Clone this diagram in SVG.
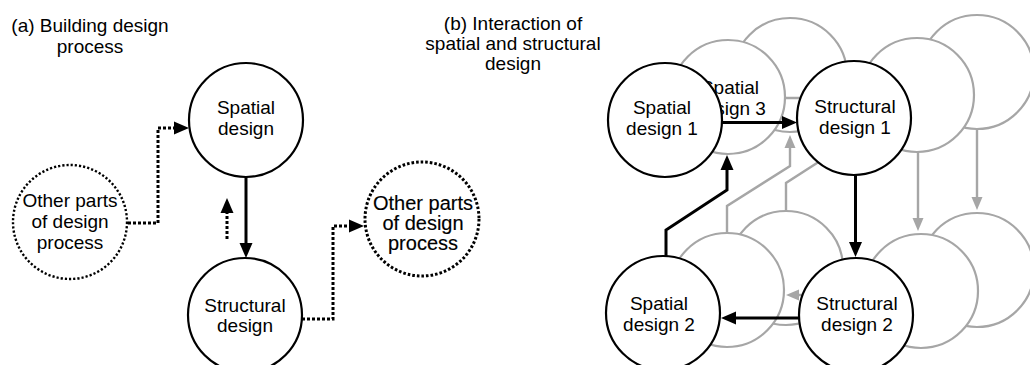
<svg xmlns="http://www.w3.org/2000/svg" width="1030" height="365" viewBox="0 0 1030 365">
  <style>
    text { font-family: "Liberation Sans", Arial, sans-serif; font-size: 19px; fill: #000; text-anchor: middle; }
    .big { font-size: 20px; stroke: #000; stroke-width: 0.15; }
    .node { fill: #fff; stroke: #000; stroke-width: 2.2; }
    .ghost { fill: #fff; stroke: #a6a6a6; stroke-width: 2.2; }
    .dotnode { fill: #fff; stroke: #000; stroke-width: 2.4; stroke-dasharray: 2.2 2; }
    .dotnode.heavy { stroke-width: 3; stroke-dasharray: 2.6 2; }
    .k { fill: none; stroke: #000; stroke-width: 3; marker-end: url(#headK); }
    .dot { fill: none; stroke: #000; stroke-width: 3; stroke-dasharray: 3 2; marker-end: url(#headK); }
    .g { fill: none; stroke: #a6a6a6; stroke-width: 2.4; marker-end: url(#headG); }
  </style>
  <defs>
    <marker id="headK" markerUnits="userSpaceOnUse" markerWidth="16" markerHeight="14" refX="3" refY="7" orient="auto">
      <path d="M0,0.5 L15,7 L0,13.5 z" fill="#000"/>
    </marker>
    <marker id="headG" markerUnits="userSpaceOnUse" markerWidth="14" markerHeight="12" refX="3" refY="6" orient="auto">
      <path d="M0,0.5 L13,6 L0,11.5 z" fill="#a6a6a6"/>
    </marker>
  </defs>

  <!-- titles -->
  <g id="title-a">
    <text x="90" y="32">(a) Building design</text>
    <text x="90" y="53">process</text>
  </g>
  <g id="title-b">
    <text x="513" y="30">(b) Interaction of</text>
    <text x="513" y="50">spatial and structural</text>
    <text x="513" y="70">design</text>
  </g>

  <!-- (b) later iterations, drawn behind -->
  <g id="spatial-5"><circle class="ghost" cx="790" cy="75" r="57"/></g>
  <g id="spatial-3">
    <circle class="ghost" cx="728" cy="97" r="57"/>
    <text x="730" y="94">Spatial</text>
    <text x="730" y="115">design 3</text>
  </g>
  <g id="structural-5"><circle class="ghost" cx="977" cy="72" r="57"/></g>
  <g id="structural-3"><circle class="ghost" cx="917" cy="95" r="57"/></g>
  <g id="spatial-6"><circle class="ghost" cx="786" cy="268" r="57"/></g>
  <g id="spatial-4"><circle class="ghost" cx="727" cy="290" r="57"/></g>
  <g id="structural-6"><circle class="ghost" cx="977" cy="270" r="57"/></g>
  <g id="structural-4"><circle class="ghost" cx="921" cy="291" r="57"/></g>

  <g id="connectors">
    <!-- (b) later iterations -->
    <path class="g" d="M786,98 H848"/>
    <path class="g" d="M918,152 V221"/>
    <path class="g" d="M977,129 V200"/>
    <path class="g" d="M864,295 H796"/>
    <path class="g" d="M727,233 V206 L790,166 V145"/>
    <path class="g" d="M786,211 V183 L817,163 L845,145" style="marker-end:none"/>
    <!-- (b) first iteration -->
    <path class="k" d="M722,122.5 H785"/>
    <path class="k" d="M855.5,175 V245"/>
    <path class="k" d="M799,318 H733"/>
    <path class="k" d="M666,256 V230 L727,190 V167"/>
    <!-- (a) process -->
    <path class="k" d="M246,177 V246"/>
    <path class="dot" d="M227,239 V210"/>
    <path class="dot" d="M128,223 H158 V128 H177"/>
    <path class="dot" d="M302,319 H333 V226 H352"/>
  </g>

  <!-- (a) nodes -->
  <g id="spatial-design">
    <circle class="node" cx="246" cy="120" r="57"/>
    <text x="246" y="114">Spatial</text>
    <text x="246" y="135">design</text>
  </g>
  <g id="structural-design">
    <circle class="node" cx="245" cy="315" r="57"/>
    <text x="245" y="312">Structural</text>
    <text x="245" y="332">design</text>
  </g>
  <g id="other-parts-in">
    <circle class="dotnode" cx="70" cy="222" r="57"/>
    <text x="70" y="207">Other parts</text>
    <text x="70" y="228">of design</text>
    <text x="70" y="249">process</text>
  </g>
  <g id="other-parts-out">
    <circle class="dotnode heavy" cx="422" cy="219" r="57"/>
    <text class="big" x="423" y="210">Other parts</text>
    <text class="big" x="423" y="230">of design</text>
    <text class="big" x="423" y="250">process</text>
  </g>

  <!-- (b) first iteration nodes -->
  <g id="spatial-1">
    <circle class="node" cx="665" cy="120" r="57"/>
    <text x="662" y="114">Spatial</text>
    <text x="662" y="135">design 1</text>
  </g>
  <g id="structural-1">
    <circle class="node" cx="854" cy="118" r="57"/>
    <text x="855" y="113">Structural</text>
    <text x="855" y="134">design 1</text>
  </g>
  <g id="spatial-2">
    <circle class="node" cx="663" cy="313" r="57"/>
    <text x="659" y="310">Spatial</text>
    <text x="659" y="331">design 2</text>
  </g>
  <g id="structural-2">
    <circle class="node" cx="856" cy="315" r="57"/>
    <text x="857" y="310">Structural</text>
    <text x="857" y="331">design 2</text>
  </g>
</svg>
